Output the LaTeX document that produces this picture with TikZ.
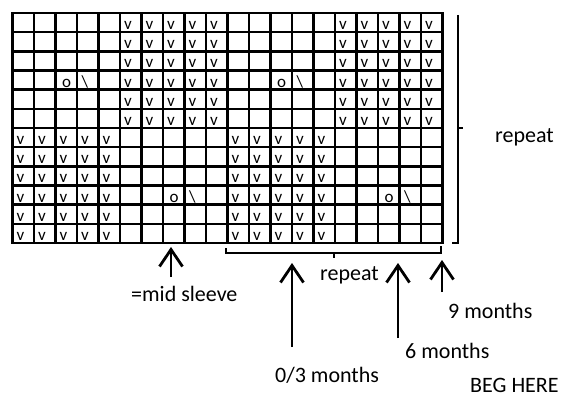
\documentclass[tikz,border=0pt]{standalone}
\usepackage{fontspec}
\setmainfont{Carlito}
\usetikzlibrary{arrows.meta}
\tikzset{
  gridl/.style={line width=2.6pt, line cap=rect},
  sym/.style={inner sep=0pt, anchor=base west, font=\fontsize{17}{19}\selectfont},
  lbl/.style={inner sep=0pt, anchor=base west, font=\fontsize{22}{26}\selectfont},
  brk/.style={line width=2.2pt},
  arr/.style={line width=2.8pt, -{Straight Barb[length=17pt,width=23pt]}},
}
\newcommand\cellsym[3]{\node[sym] (s-#1-#2) at ({12.5+21.5*#2+4},{13+19.1667*(#1+1)-2.5}) {#3};}
\begin{document}
\begin{tikzpicture}[x=1pt,y=-1pt]
\useasboundingbox (0,0) rectangle (562,398);
% grid
\foreach \i in {0,...,20} \draw[gridl] ({12.5+21.5*\i},13) -- ({12.5+21.5*\i},243);
\foreach \j in {0,...,12} \draw[gridl] (12.5,{13+19.1667*\j}) -- (442.5,{13+19.1667*\j});
% stitches
\foreach \r in {0,...,5} {
  \foreach \c in {5,...,9,15,16,17,18,19} { \cellsym{\r}{\c}{v} }
}
\foreach \r in {6,...,11} {
  \foreach \c in {0,...,4,10,11,12,13,14} { \cellsym{\r}{\c}{v} }
}
\node[sym] (o1) at ({12.5+21.5*2+6.5},{13+19.1667*4-2.5}) {o};
\node[sym] (b1) at ({12.5+21.5*3+4.5},{13+19.1667*4-2.5}) {\textbackslash};
\node[sym] (o2) at ({12.5+21.5*12+6.5},{13+19.1667*4-2.5}) {o};
\node[sym] (b2) at ({12.5+21.5*13+4.5},{13+19.1667*4-2.5}) {\textbackslash};
\node[sym] (o3) at ({12.5+21.5*7+6.5},{13+19.1667*10-2.5}) {o};
\node[sym] (b3) at ({12.5+21.5*8+4.5},{13+19.1667*10-2.5}) {\textbackslash};
\node[sym] (o4) at ({12.5+21.5*17+6.5},{13+19.1667*10-2.5}) {o};
\node[sym] (b4) at ({12.5+21.5*18+4.5},{13+19.1667*10-2.5}) {\textbackslash};
% right bracket
\coordinate (rbt) at (458,15);
\coordinate (rbb) at (458,243);
\coordinate (rbh) at (452,243);
\coordinate (rbm) at (458,128);
\coordinate (rbm2) at (463,128);
\draw[brk] (rbt) -- (rbb) -- (rbh);
\draw[brk] (rbm) -- (rbm2);
\node[lbl] (rep1) at (495,143) {repeat};
% bottom bracket
\coordinate (bb1) at (226,248);
\coordinate (bb2) at (226,253);
\coordinate (bb3) at (441,253);
\coordinate (bb4) at (441,246);
\coordinate (bbm) at (334,253);
\coordinate (bbm2) at (334,258);
\draw[brk] (bb1) -- (bb2) -- (bb3) -- (bb4);
\draw[brk] (bbm) -- (bbm2);
\node[lbl] (rep2) at (320,280) {repeat};
% arrows
\coordinate (ms0) at (171,277);
\coordinate (ms1) at (171,247);
\draw[arr] (ms0) -- (ms1);
\node[lbl] (mid) at (131,301) {=mid sleeve};
\coordinate (m03a) at (292,347);
\coordinate (m03b) at (292,263);
\draw[arr] (m03a) -- (m03b);
\node[lbl] (l03) at (275,382) {0/3 months};
\coordinate (m6a) at (398,338);
\coordinate (m6b) at (398,263);
\draw[arr] (m6a) -- (m6b);
\node[lbl] (l6) at (405,358) {6 months};
\coordinate (m9a) at (442,292);
\coordinate (m9b) at (442,260);
\draw[arr] (m9a) -- (m9b);
\node[lbl] (l9) at (448,318) {9 months};
\node[lbl] (beg) at (470,392) {BEG HERE};
\end{tikzpicture}
\end{document}
